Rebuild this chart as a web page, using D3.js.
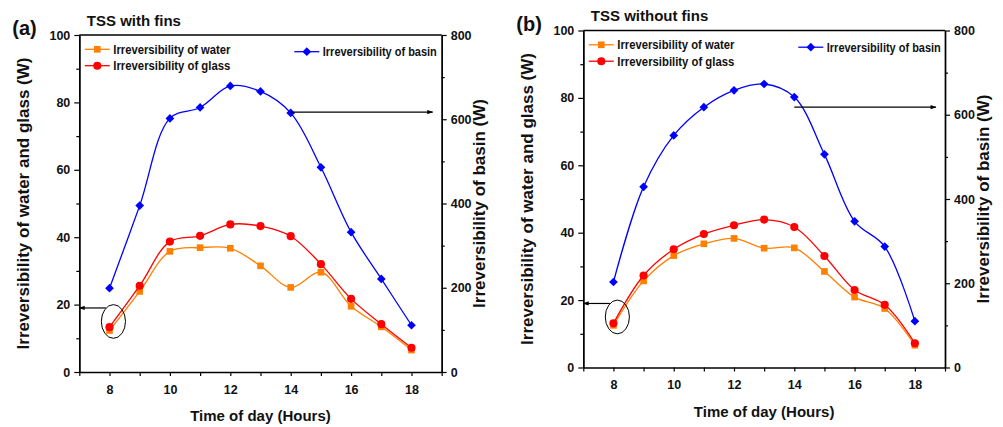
<!DOCTYPE html>
<html>
<head>
<meta charset="utf-8">
<script src="https://cdn.jsdelivr.net/npm/d3@7/dist/d3.min.js"></script>
<style>
  html, body { margin: 0; padding: 0; background: #fff; }
  svg { display: block; }
  text { font-family: "Liberation Sans", Arial, sans-serif; font-weight: bold; fill: #111; }
</style>
</head>
<body>
<svg id="chart" width="1003" height="427"></svg>
<script>
// Hour of day for every measurement
const hours = [8, 9, 10, 11, 12, 13, 14, 15, 16, 17, 18];

// (a) TSS with fins
const waterFins = [12.3, 23.9, 35.8, 36.9, 36.7, 31.5, 25.1, 29.6, 19.5, 13.4, 6.5];
const glassFins = [13.3, 25.6, 38.7, 40.4, 43.8, 43.3, 40.3, 32.0, 21.7, 14.2, 7.2];
const basinFins = [199, 395, 602, 628, 679, 666, 615, 486, 332, 221, 111];

// (b) TSS without fins
const waterNoFins = [12.5, 25.7, 33.2, 36.7, 38.3, 35.4, 35.5, 28.5, 20.9, 17.5, 6.6];
const glassNoFins = [13.1, 27.3, 35.1, 39.6, 42.2, 43.9, 41.7, 33.1, 23.0, 18.6, 7.2];
const basinNoFins = [203, 429, 551, 618, 658, 673, 642, 506, 347, 287, 110];

// Axis ticks
const leftMajor = [0, 20, 40, 60, 80, 100];
const leftMinor = [10, 30, 50, 70, 90];
const rightMajor = [0, 200, 400, 600, 800];
const rightMinor = [100, 300, 500, 700];
const hourLabels = [8, 10, 12, 14, 16, 18];
const hourTicks = [7, 8, 9, 10, 11, 12, 13, 14, 15, 16, 17, 18, 19];

const seriesNames = ["Irreversibility of water", "Irreversibility of glass", "Irreversibility of basin"];
const COLORS = { water: "#ff8000", glass: "#ff0000", basin: "#0000ff" };

const svg = d3.select("#chart");

const defs = svg.append("defs");
defs.append("marker")
  .attr("id", "arrowhead")
  .attr("viewBox", "0 0 10 10")
  .attr("refX", 9).attr("refY", 5)
  .attr("markerWidth", 9).attr("markerHeight", 6)
  .attr("markerUnits", "userSpaceOnUse")
  .attr("orient", "auto")
  .append("path").attr("d", "M0,1.5 L10,5 L0,8.5 Z").attr("fill", "#000");

const panels = [
  { tag: "(a)", title: "TSS with fins", left: 79.3, right: 441.7, top: 35, bottom: 372,
    water: waterFins, glass: glassFins, basin: basinFins, arrowBasin: 617 },
  { tag: "(b)", title: "TSS without fins", left: 583.3, right: 945, top: 30.5, bottom: 367.5,
    water: waterNoFins, glass: glassNoFins, basin: basinNoFins, arrowBasin: 618 }
];

const squareSym = d3.symbol().type(d3.symbolSquare).size(44);
const circleSym = d3.symbol().type(d3.symbolCircle).size(52);
const diamondSym = d3.symbol().type(d3.symbolSquare).size(38);

function drawMarker(g, kind, x, y) {
  if (kind === "water") {
    g.append("path").attr("d", squareSym()).attr("transform", `translate(${x},${y})`).attr("fill", COLORS.water);
  } else if (kind === "glass") {
    g.append("path").attr("d", circleSym()).attr("transform", `translate(${x},${y})`).attr("fill", COLORS.glass);
  } else {
    g.append("path").attr("d", diamondSym()).attr("transform", `translate(${x},${y}) rotate(45)`).attr("fill", COLORS.basin);
  }
}

function drawPanel(p) {
  const g = svg.append("g");
  const x = d3.scaleLinear().domain([7, 19]).range([p.left, p.right]);
  const yL = d3.scaleLinear().domain([0, 100]).range([p.bottom, p.top]);
  const yR = d3.scaleLinear().domain([0, 800]).range([p.bottom, p.top]);

  const styleAxis = sel => {
    sel.select(".domain").attr("stroke", "#000").attr("stroke-width", 1.4);
    sel.selectAll(".tick line").attr("stroke", "#000").attr("stroke-width", 1.2);
    sel.selectAll(".tick text").style("font-size", "12.5px").attr("fill", "#111");
  };

  // left axis
  g.append("g").attr("transform", `translate(${p.left},0)`)
    .call(d3.axisLeft(yL).tickValues(leftMajor).tickSize(5).tickSizeOuter(0).tickPadding(4))
    .call(styleAxis);
  g.append("g").attr("transform", `translate(${p.left},0)`)
    .call(d3.axisLeft(yL).tickValues(leftMinor).tickSize(3).tickSizeOuter(0).tickFormat(""))
    .call(styleAxis);

  // right axis
  g.append("g").attr("transform", `translate(${p.right},0)`)
    .call(d3.axisRight(yR).tickValues(rightMajor).tickSize(5).tickSizeOuter(0).tickPadding(4))
    .call(styleAxis);
  g.append("g").attr("transform", `translate(${p.right},0)`)
    .call(d3.axisRight(yR).tickValues(rightMinor).tickSize(3).tickSizeOuter(0).tickFormat(""))
    .call(styleAxis);

  // bottom axis
  g.append("g").attr("transform", `translate(0,${p.bottom})`)
    .call(d3.axisBottom(x).tickValues(hourTicks).tickSize(4).tickSizeOuter(0).tickPadding(9)
      .tickFormat(d => hourLabels.includes(d) ? d : ""))
    .call(styleAxis);

  // top frame line
  g.append("line").attr("x1", p.left).attr("x2", p.right).attr("y1", p.top).attr("y2", p.top)
    .attr("stroke", "#000").attr("stroke-width", 1.4);

  // series
  const curve = d3.curveCatmullRom.alpha(0.5);
  const lineL = d3.line().x(d => x(d[0])).y(d => yL(d[1])).curve(curve);
  const lineR = d3.line().x(d => x(d[0])).y(d => yR(d[1])).curve(curve);
  const series = [
    { kind: "water", vals: p.water, line: lineL, y: yL },
    { kind: "glass", vals: p.glass, line: lineL, y: yL },
    { kind: "basin", vals: p.basin, line: lineR, y: yR }
  ];
  series.forEach(s => {
    const pts = hours.map((h, i) => [h, s.vals[i]]);
    g.append("path").attr("d", s.line(pts)).attr("fill", "none")
      .attr("stroke", COLORS[s.kind]).attr("stroke-width", 1.3);
    pts.forEach(pt => drawMarker(g, s.kind, x(pt[0]), s.y(pt[1])));
  });

  // legend
  const legendRows = [
    { kind: "water", name: seriesNames[0], x0: p.left + 5.5, y: p.top + 14.3, w: 117 },
    { kind: "glass", name: seriesNames[1], x0: p.left + 5.5, y: p.top + 30.7, w: 117 },
    { kind: "basin", name: seriesNames[2], x0: p.left + 215, y: p.top + 16.7, w: 114 }
  ];
  legendRows.forEach(r => {
    g.append("line").attr("x1", r.x0).attr("x2", r.x0 + 25).attr("y1", r.y).attr("y2", r.y)
      .attr("stroke", COLORS[r.kind]).attr("stroke-width", 1.3);
    drawMarker(g, r.kind, r.x0 + 12.5, r.y);
    g.append("text").attr("x", r.x0 + 28.5).attr("y", r.y + 4.5)
      .style("font-size", "12.5px")
      .attr("textLength", r.w).attr("lengthAdjust", "spacingAndGlyphs")
      .text(r.name);
  });

  // annotations: arrow to the basin axis
  g.append("line")
    .attr("x1", x(14)).attr("y1", yR(p.arrowBasin))
    .attr("x2", x(18.7)).attr("y2", yR(p.arrowBasin))
    .attr("stroke", "#000").attr("stroke-width", 1.2)
    .attr("marker-end", "url(#arrowhead)");

  // annotations: circled 8 h points with arrow to the left axis
  g.append("ellipse")
    .attr("cx", x(8.13)).attr("cy", yL(15))
    .attr("rx", x(8.53) - x(8.13)).attr("ry", yL(0) - yL(5))
    .attr("fill", "none").attr("stroke", "#000").attr("stroke-width", 1);
  g.append("line")
    .attr("x1", x(7.88)).attr("y1", yL(19))
    .attr("x2", x(7.0)).attr("y2", yL(19))
    .attr("stroke", "#000").attr("stroke-width", 1.2)
    .attr("marker-end", "url(#arrowhead)");

  // titles and axis labels
  g.append("text").attr("x", p.left - 67).attr("y", p.top)
    .style("font-size", "20px").text(p.tag);
  g.append("text").attr("x", p.left + 7.5).attr("y", p.top - 9.5)
    .style("font-size", "15px").text(p.title);
  g.append("text").attr("x", (p.left + p.right) / 2).attr("y", p.bottom + 49)
    .attr("text-anchor", "middle").style("font-size", "15px").text("Time of day (Hours)");
  g.append("text")
    .attr("transform", `translate(${p.left - 50},${(p.top + p.bottom) / 2}) rotate(-90)`)
    .attr("text-anchor", "middle").style("font-size", "17px")
    .text("Irreversibility of water and glass (W)");
  g.append("text")
    .attr("transform", `translate(${p.right + 43.5},${(p.top + p.bottom) / 2}) rotate(-90)`)
    .attr("text-anchor", "middle").style("font-size", "17px")
    .text("Irreversibility of basin (W)");
}

panels.forEach(drawPanel);
</script>
</body>
</html>
